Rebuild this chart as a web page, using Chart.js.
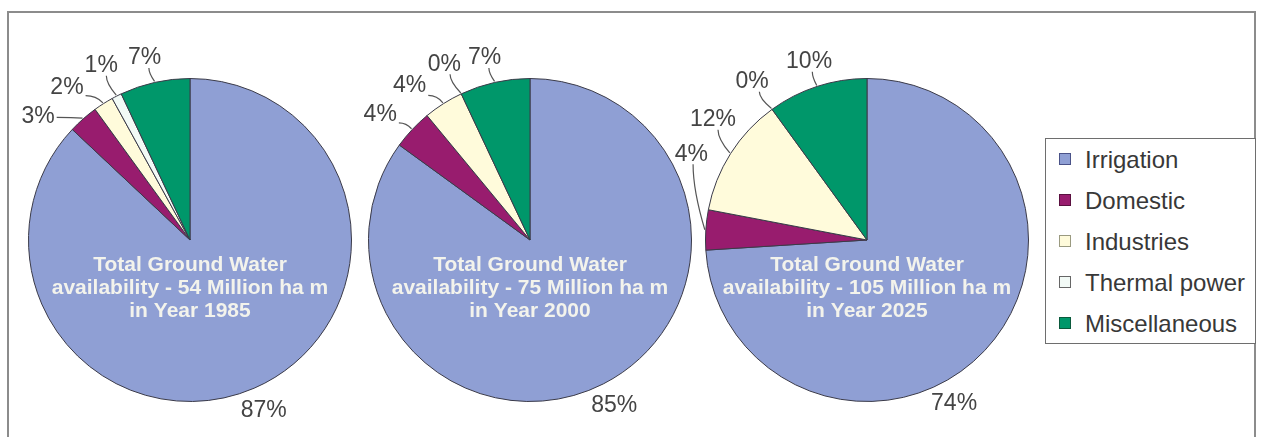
<!DOCTYPE html>
<html>
<head>
<meta charset="utf-8">
<script src="https://cdn.jsdelivr.net/npm/chart.js@4.4.1/dist/chart.umd.min.js"></script>
<style>
  body { margin: 0; background: #fff; }
  #wrap { position: relative; width: 1263px; height: 437px; overflow: hidden; background: #fff; }
  #frame { position: absolute; left: 7px; top: 11px; width: 1245px; height: 440px;
           border: 2px solid #8c8c8c; border-bottom: none; }
  canvas.pie { position: absolute; top: 0; }
  #legend { position: absolute; left: 1045px; top: 138px; width: 209px; height: 204px;
            border: 1.5px solid #6e6e6e; background: #fff; z-index: 5;
            font-family: "Liberation Sans", Arial, sans-serif; font-size: 24px; color: #383838; }
  #legend div { height: 41px; line-height: 41px; position: relative; padding-left: 39px; white-space: nowrap; }
  #legend span { position: absolute; left: 13px; top: 14px; width: 10px; height: 10px;
                 border: 1.5px solid #555; }
</style>
</head>
<body>
<div id="wrap">
  <div id="frame"></div>
  <canvas class="pie" id="pie1985" width="400" height="437"></canvas>
  <canvas class="pie" id="pie2000" width="400" height="437"></canvas>
  <canvas class="pie" id="pie2025" width="400" height="437"></canvas>
  <div id="legend"></div>
</div>
<script>
// water use shares (%)
const categories = ["Irrigation", "Domestic", "Industries", "Thermal power", "Miscellaneous"];
const share1985 = [87, 3, 2, 1, 7];
const share2000 = [85, 4, 4, 0, 7];
const share2025 = [74, 4, 12, 0, 10];
const years = [1985, 2000, 2025];
const availability = [54, 75, 105]; // Million ha m

const colors = ["#8f9fd4", "#981c6e", "#fffbdb", "#f2faf6", "#00976a"];
const legendBorders = ["#4a5288", "#5a1040", "#9a9a80", "#666", "#0b5a3c"];

// pie centres on the page
const centers = [190, 530, 867];
const centerY = 240;
const radius = 162;

// percentage labels with leader lines + the text inside each pie
const leaderLabels = {
  id: "leaderLabels",
  afterDatasetsDraw(chart, args, opts) {
    const ctx = chart.ctx;
    const arcs = chart.getDatasetMeta(0).data;
    const vals = chart.data.datasets[0].data;
    const big = vals.indexOf(Math.max(...vals));
    const deg = a => (a + Math.PI / 2) * 180 / Math.PI;
    const pt = (cx, cy, r, t) => ({
      x: cx + r * Math.sin(t * Math.PI / 180),
      y: cy - r * Math.cos(t * Math.PI / 180),
    });

    // angles (clockwise from top) for the small slices, spread apart
    const small = [];
    arcs.forEach((a, i) => {
      if (i === big) return;
      const mid = (deg(a.startAngle) + deg(a.endAngle)) / 2;
      small.push({ i, mid, t: Math.min(Math.max(mid, 296), 346) });
    });
    const gap = 12;
    for (let k = small.length - 2; k >= 0; k--)
      small[k].t = Math.min(small[k].t, small[k + 1].t - gap);
    for (let k = 0; k < small.length; k++)
      small[k].t = Math.max(small[k].t, 296, k ? small[k - 1].t + gap : 0);

    ctx.save();
    ctx.font = "23px 'Liberation Sans', Arial, sans-serif";
    ctx.fillStyle = "#444";
    ctx.strokeStyle = "#555";
    ctx.lineWidth = 1.2;
    ctx.textAlign = "center";
    ctx.textBaseline = "middle";

    const a0 = arcs[big];
    const cx = a0.x, cy = a0.y, R = a0.outerRadius;
    const bigMid = (deg(a0.startAngle) + deg(a0.endAngle)) / 2;
    const bp = pt(cx, cy, R + 24, Math.max(bigMid, 152));
    ctx.fillText(vals[big] + "%", bp.x, bp.y);

    small.forEach(s => {
      const txt = vals[s.i] + "%";
      // labels near the top sit a little closer to the rim
      const L = pt(cx, cy, R + (s.t > 340 ? 26 : 34), s.t);
      const A = pt(cx, cy, R + 1, s.mid);
      ctx.fillText(txt, L.x, L.y);
      const hw = ctx.measureText(txt).width / 2 + 2, hh = 10;
      const dx = A.x - L.x, dy = A.y - L.y;
      const f = Math.min(hw / Math.abs(dx || 1e-6), hh / Math.abs(dy || 1e-6));
      const P = { x: L.x + dx * f, y: L.y + dy * f };
      ctx.beginPath();
      ctx.moveTo(P.x, P.y);
      if (Math.abs(dx) > Math.abs(dy)) ctx.quadraticCurveTo(P.x + (A.x - P.x) * 0.6, P.y, A.x, A.y);
      else ctx.quadraticCurveTo(P.x, P.y + (A.y - P.y) * 0.4, A.x, A.y);
      ctx.stroke();
    });

    // caption inside the pie
    ctx.font = "bold 21px 'Liberation Sans', Arial, sans-serif";
    ctx.fillStyle = "#f3f3ec";
    opts.caption.forEach((line, k) => ctx.fillText(line, cx, cy + 25 + k * 23));
    ctx.restore();
  },
};

function makePie(id, values, k) {
  const cv = document.getElementById(id);
  cv.style.left = (centers[k] - 200) + "px";
  return new Chart(cv, {
    type: "pie",
    data: {
      labels: categories,
      datasets: [{
        data: values,
        backgroundColor: colors,
        borderColor: "#3a3a48",
        borderWidth: 1,
      }],
    },
    options: {
      responsive: false,
      animation: false,
      events: [],
      layout: { padding: { left: 200 - radius, right: 200 - radius, top: centerY - radius, bottom: 437 - centerY - radius } },
      plugins: {
        legend: { display: false },
        tooltip: { enabled: false },
        leaderLabels: {
          caption: [
            "Total Ground Water",
            "availability - " + availability[k] + " Million ha m",
            "in Year " + years[k],
          ],
        },
      },
    },
    plugins: [leaderLabels],
  });
}

makePie("pie1985", share1985, 0);
makePie("pie2000", share2000, 1);
makePie("pie2025", share2025, 2);

// legend
const legend = document.getElementById("legend");
categories.forEach((c, i) => {
  const row = document.createElement("div");
  const sw = document.createElement("span");
  sw.style.background = colors[i];
  sw.style.borderColor = legendBorders[i];
  row.appendChild(sw);
  row.appendChild(document.createTextNode(c));
  legend.appendChild(row);
});
</script>
</body>
</html>
